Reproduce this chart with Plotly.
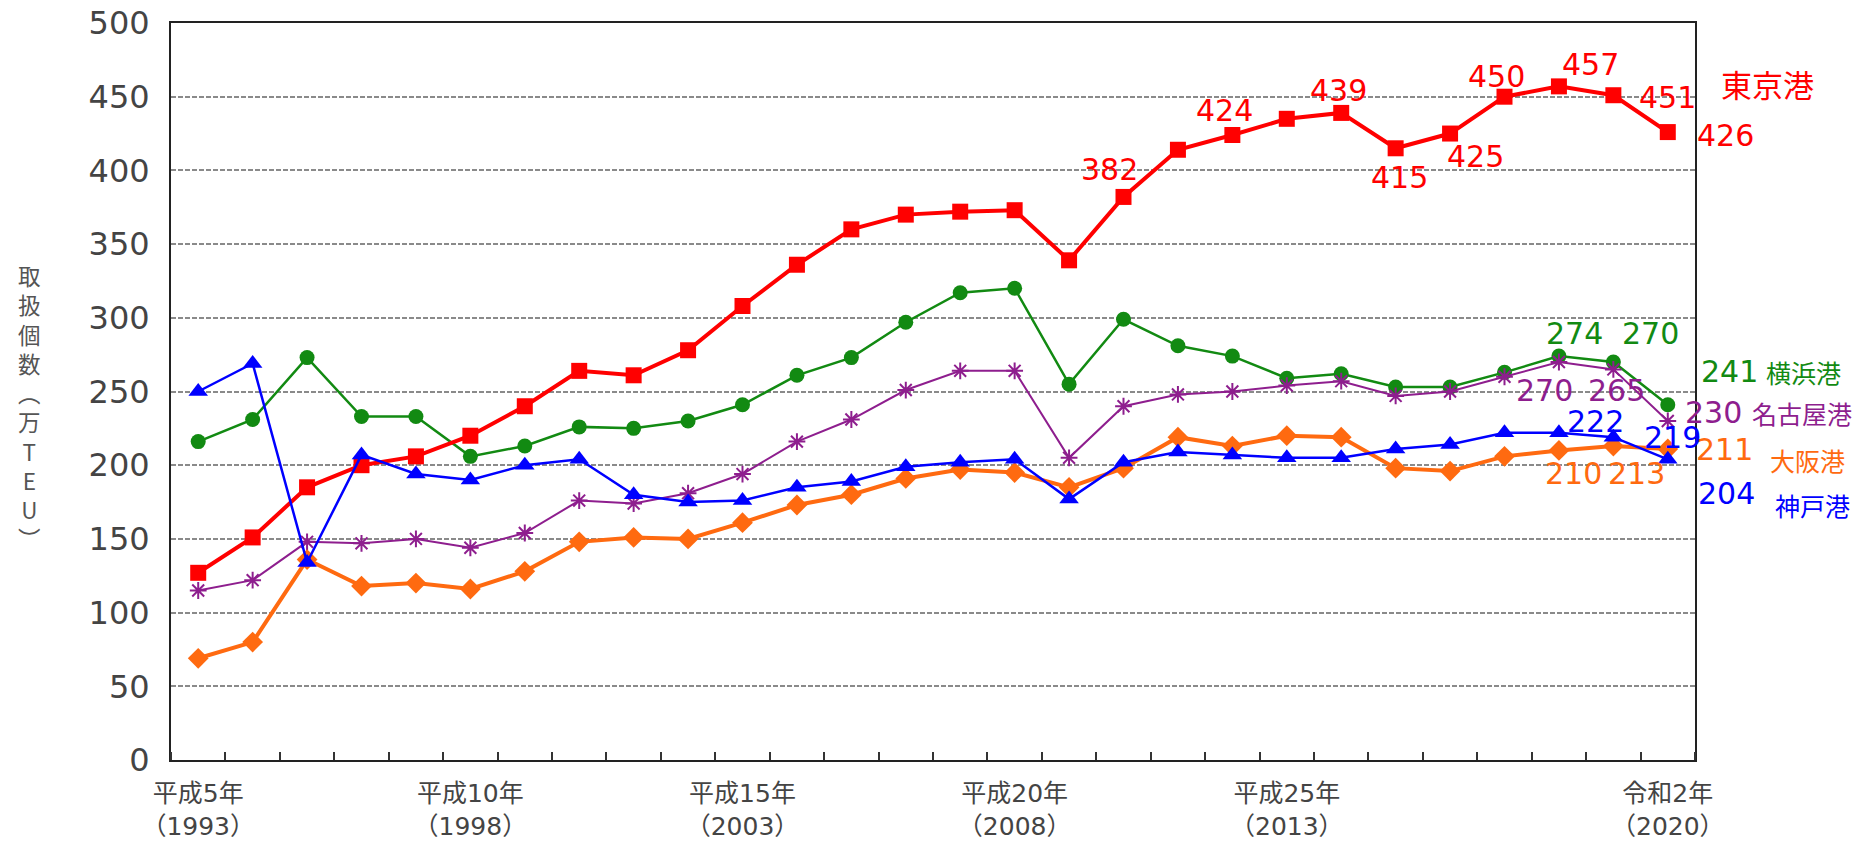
import plotly.graph_objects as go

# ---------------- data (万TEU) ----------------
years = list(range(1993, 2021))
tokyo = [127, 151, 185, 200, 206, 220, 240, 264, 261, 278, 308, 336, 360, 370,
         372, 373, 339, 382, 414, 424, 435, 439, 415, 425, 450, 457, 451, 426]
yokohama = [216, 231, 273, 233, 233, 206, 213, 226, 225, 230, 241, 261, 273, 297,
            317, 320, 255, 299, 281, 274, 259, 262, 253, 253, 263, 274, 270, 241]
nagoya = [115, 122, 148, 147, 150, 144, 154, 176, 174, 181, 194, 216, 231, 251,
          264, 264, 205, 240, 248, 250, 254, 257, 247, 250, 260, 270, 265, 230]
osaka = [69, 80, 136, 118, 120, 116, 128, 148, 151, 150, 161, 173, 180, 191,
         197, 195, 185, 198, 219, 213, 220, 219, 198, 196, 206, 210, 213, 211]
kobe = [250, 269, 134, 207, 194, 190, 200, 204, 180, 175, 176, 185, 189, 199,
        202, 204, 177, 202, 209, 207, 205, 205, 211, 214, 222, 222, 219, 204]

port_names = ["東京港", "横浜港", "名古屋港", "大阪港", "神戸港"]
tick_years = [1993, 1998, 2003, 2008, 2013, 2020]
tick_labels = ["平成5年<br>（1993）", "平成10年<br>（1998）", "平成15年<br>（2003）",
               "平成20年<br>（2008）", "平成25年<br>（2013）", "令和2年<br>（2020）"]
y_title = "取扱個数︵万TEU︶"

# years whose values are printed next to the markers
tokyo_label_years = [2010, 2012, 2014, 2015, 2016, 2017, 2018, 2019, 2020]
other_label_years = [2018, 2019, 2020]

# ---------------- styles ----------------
FONT = "DejaVu Sans, Noto Sans CJK JP, sans-serif"
CJK = "Noto Sans CJK JP, sans-serif"
RED, GREEN, PURPLE, ORANGE, BLUE = "#FF0000", "#128A12", "#8E1E8E", "#FF6A10", "#0000FF"

series = [
    # name, values, color, line width, symbol, size
    (port_names[1], yokohama, GREEN, 2.5, "circle", 15),
    (port_names[2], nagoya, PURPLE, 2, "asterisk-open", 14),
    (port_names[3], osaka, ORANGE, 4, "diamond", 16),
    (port_names[0], tokyo, RED, 4, "square", 16),
    (port_names[4], kobe, BLUE, 2.5, "triangle-up", 17),
]

fig = go.Figure()
for name, vals, color, lw, sym, size in series:
    marker = dict(symbol=sym, size=size, color=color)
    if sym == "asterisk-open":
        marker["line"] = dict(color=color, width=2)
    fig.add_trace(go.Scatter(x=years, y=vals, mode="lines+markers", name=name,
                             line=dict(color=color, width=lw), marker=marker,
                             cliponaxis=False))

ann = []
LABEL_SIZE = 30

def lab(year, vals, color, dx, dy, size=LABEL_SIZE):
    v = vals[years.index(year)]
    ann.append(dict(x=year, y=v, xref="x", yref="y", text=str(v), showarrow=False,
                    xshift=dx, yshift=dy, font=dict(family=FONT, size=size, color=color)))

tokyo_offsets = [(-14, 27), (-8, 25), (-3, 22), (4, -29), (25, -23), (-8, 20),
                 (32, 22), (54, -2), (58, -3)]
for yr, (dx, dy) in zip(tokyo_label_years, tokyo_offsets):
    lab(yr, tokyo, RED, dx, dy)

for vals, color, offs in [
    (yokohama, GREEN, [(16, 23), (37, 29), (62, 33)]),
    (nagoya, PURPLE, [(-14, -28), (3, -21), (46, 8)]),
    (osaka, ORANGE, [(15, -23), (23, -27), (57, -1)]),
    (kobe, BLUE, [(37, 11), (59, 0), (59, -34)]),
]:
    for yr, (dx, dy) in zip(other_label_years, offs):
        lab(yr, vals, color, dx, dy)

# port names to the right of the plot
for name, vals, color, dx, dy, size in [
    (port_names[0], tokyo, RED, 100, 49, 31),
    (port_names[1], yokohama, GREEN, 136, 33, 25),
    (port_names[2], nagoya, PURPLE, 134, 8, 25),
    (port_names[3], osaka, ORANGE, 140, -11, 25),
    (port_names[4], kobe, BLUE, 145, -46, 25),
]:
    ann.append(dict(x=years[-1], y=vals[-1], xref="x", yref="y", text=name, showarrow=False,
                    xshift=dx, yshift=dy, font=dict(family=CJK, size=size, color=color)))

# vertical y-axis title, one character per line
PLOT_TOP, PLOT_BOTTOM, PLOT_LEFT, PLOT_RIGHT = 23, 760, 171, 1695
ann.append(dict(x=(29 - PLOT_LEFT) / (PLOT_RIGHT - PLOT_LEFT),
                y=(PLOT_BOTTOM - 406) / (PLOT_BOTTOM - PLOT_TOP),
                xref="paper", yref="paper", xanchor="center", yanchor="middle",
                text="<br>".join(y_title), showarrow=False,
                font=dict(family=CJK, size=22.5, color="#555")))

W, H = 1869, 844
fig.update_layout(
    width=W, height=H,
    margin=dict(l=PLOT_LEFT, r=W - PLOT_RIGHT, t=PLOT_TOP, b=H - PLOT_BOTTOM, pad=0),
    paper_bgcolor="white", plot_bgcolor="white",
    showlegend=False,
    annotations=ann,
    font=dict(family=FONT, color="#333"),
)
fig.update_xaxes(
    range=[1992.5, 2020.5], tickmode="array", tickvals=tick_years, ticktext=tick_labels,
    ticks="", showgrid=False, zeroline=False, automargin=False,
    showline=True, mirror=True, linecolor="#222", linewidth=2,
    tickfont=dict(family=FONT, size=25, color="#444"), ticklabelstandoff=10,
    ticklabeloverflow="allow",
    minor=dict(ticks="inside", ticklen=8, tickwidth=1.5, tickcolor="#333",
               tick0=1992.5, dtick=1, showgrid=False),
)
fig.update_yaxes(
    range=[0, 500], dtick=50, tick0=0, ticks="",
    showgrid=True, gridcolor="#8a8a8a", gridwidth=2, griddash="5px,2px",
    zeroline=False, showline=True, mirror=True, linecolor="#222", linewidth=2,
    tickfont=dict(family=FONT, size=32, color="#444"), ticklabelstandoff=13,
    ticklabeloverflow="allow", automargin=False,
)

fig.write_html("out.html", config={"displayModeBar": False},
               post_script="document.body.style.margin='0';")
